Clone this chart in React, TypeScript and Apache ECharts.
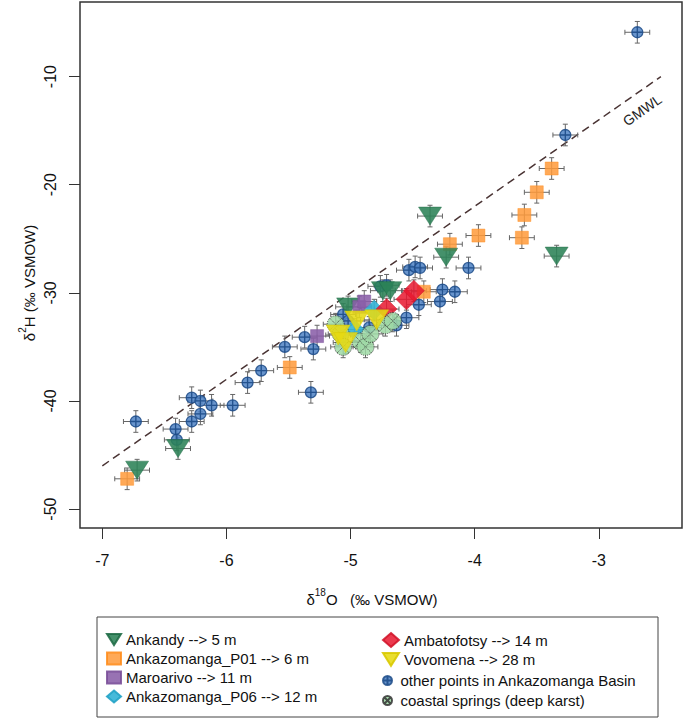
import React, { useEffect, useRef } from 'react';
import * as echarts from 'echarts';

// ---------- data (δ18O, δ2H in ‰ VSMOW) ----------
const X_TICKS = [-7, -6, -5, -4, -3];
const Y_TICKS = [-50, -40, -30, -20, -10];
const ERR_X = 0.1;
const ERR_Y = 1.0;

const ankandy = [
  [-6.72, -46.4], [-6.39, -44.4], [-5.02, -31.3], [-4.74, -29.8],
  [-4.68, -29.8], [-4.36, -22.9], [-4.23, -26.7], [-3.34, -26.6],
];
const ankazomangaP01 = [
  [-6.8, -47.2], [-5.49, -36.9], [-4.41, -29.9], [-4.2, -25.5], [-3.97, -24.7],
  [-3.62, -24.9], [-3.6, -22.8], [-3.5, -20.7], [-3.38, -18.5],
];
const maroarivo = [[-5.27, -34.0], [-4.93, -31.3], [-4.89, -30.8]];
const ankazomangaP06 = [[-4.97, -33.4], [-4.81, -31.6]];
const ambatofotsy = [[-4.71, -31.5], [-4.55, -30.6], [-4.49, -29.8]];
const vovomena = [[-5.1, -33.9], [-5.04, -34.6], [-4.95, -32.6], [-4.79, -32.5]];
const otherPoints = [
  [-6.73, -41.9], [-6.41, -42.6], [-6.4, -43.6], [-6.28, -39.7], [-6.21, -40.0],
  [-6.28, -41.9], [-6.21, -41.2], [-6.12, -40.4], [-5.95, -40.4], [-5.83, -38.3],
  [-5.72, -37.2], [-5.53, -35.0], [-5.37, -34.1], [-5.3, -35.2], [-5.32, -39.2],
  [-5.06, -32.0], [-5.02, -32.6], [-4.85, -33.2], [-4.76, -29.4], [-4.71, -29.3],
  [-4.63, -33.0], [-4.55, -32.3], [-4.45, -31.1], [-4.53, -27.9], [-4.48, -27.6],
  [-4.44, -27.7], [-4.26, -29.7], [-4.16, -29.9], [-4.28, -30.8], [-4.05, -27.7],
  [-3.27, -15.4], [-2.69, -5.9],
];
const coastalSprings = [
  [-5.12, -32.9], [-5.08, -33.8], [-5.06, -35.0], [-4.92, -34.5],
  [-4.88, -35.0], [-4.84, -33.8], [-4.72, -33.0], [-4.66, -32.6],
];
const gmwl = [[-7, -46], [-2.5, -10]];
const gmwlLabelAt = [-2.65, -13.1];

// ---------- styles ----------
const FONT = '"Liberation Sans", Arial, Helvetica, sans-serif';
const INV_TRI = 'path://M0,0L20,0L10,16Z';
const CIRCLE_PLUS = 'path://M10,0A10,10,0,1,1,10,20A10,10,0,1,1,10,0ZM0,10L20,10M10,0L10,20';
const CIRCLE_X = 'path://M10,0A10,10,0,1,1,10,20A10,10,0,1,1,10,0ZM2.93,2.93L17.07,17.07M17.07,2.93L2.93,17.07';

const NAMES = {
  ankandy: 'Ankandy --> 5 m',
  p01: 'Ankazomanga_P01 --> 6 m',
  maro: 'Maroarivo --> 11 m',
  p06: 'Ankazomanga_P06 --> 12 m',
  amba: 'Ambatofotsy --> 14 m',
  vovo: 'Vovomena --> 28 m',
  other: 'other points in Ankazomanga Basin',
  coast: 'coastal springs (deep karst)',
};

type Group = {
  name: string; data: number[][]; symbol: string; size: number | number[];
  color: string; border: string; bw: number; opacity: number; borderType?: string;
};

const groups: Group[] = [
  { name: NAMES.other, data: otherPoints, symbol: CIRCLE_PLUS, size: 11, color: '#4f82c4', border: '#1b4a87', bw: 1.3, opacity: 0.85 },
  { name: NAMES.p01, data: ankazomangaP01, symbol: 'rect', size: 13, color: '#ff9a3a', border: '#ff8c1a', bw: 0.5, opacity: 0.85 },
  { name: NAMES.ankandy, data: ankandy, symbol: INV_TRI, size: [23, 18], color: '#2b8256', border: '#1f6b45', bw: 0.5, opacity: 0.88 },
  { name: NAMES.maro, data: maroarivo, symbol: 'rect', size: 13, color: '#8a5ea8', border: '#7a4f98', bw: 0.5, opacity: 0.88 },
  { name: NAMES.p06, data: ankazomangaP06, symbol: 'diamond', size: 20, color: '#33b3d6', border: '#23a3c6', bw: 0.5, opacity: 0.9 },
  { name: NAMES.amba, data: ambatofotsy, symbol: 'diamond', size: 21, color: '#e8182f', border: '#d01026', bw: 0.5, opacity: 0.85 },
  { name: NAMES.coast, data: coastalSprings, symbol: CIRCLE_X, size: 17, color: '#9fd9a6', border: '#333333', bw: 1, opacity: 0.85, borderType: 'dotted' },
  { name: NAMES.vovo, data: vovomena, symbol: INV_TRI, size: [24, 20], color: '#e6da12', border: '#d8c800', bw: 0.5, opacity: 0.88 },
];

const allPoints = groups.reduce((acc: number[][], g) => acc.concat(g.data), []);

function errorBarRender(params: any, api: any) {
  const x = api.value(0);
  const y = api.value(1);
  const l = api.coord([x - ERR_X, y]);
  const r = api.coord([x + ERR_X, y]);
  const b = api.coord([x, y - ERR_Y]);
  const t = api.coord([x, y + ERR_Y]);
  const c = 2.5;
  const st = { stroke: '#666', lineWidth: 1 };
  const ln = (x1: number, y1: number, x2: number, y2: number) => ({
    type: 'line', shape: { x1, y1, x2, y2 }, style: st,
  });
  return {
    type: 'group',
    children: [
      ln(l[0], l[1], r[0], r[1]),
      ln(b[0], b[1], t[0], t[1]),
      ln(l[0], l[1] - c, l[0], l[1] + c),
      ln(r[0], r[1] - c, r[0], r[1] + c),
      ln(b[0] - c, b[1], b[0] + c, b[1]),
      ln(t[0] - c, t[1], t[0] + c, t[1]),
    ],
  };
}

export default function App() {
  const ref = useRef<HTMLDivElement>(null);
  useEffect(() => {
    if (!ref.current) return;
    const chart = echarts.init(ref.current, undefined, { renderer: 'svg' });
    const legendText = { fontSize: 15, fontFamily: FONT, color: '#111' };
    const series: any[] = [
      {
        type: 'line', name: 'GMWL', data: gmwl, showSymbol: false, symbol: 'none',
        lineStyle: { color: '#4a3434', width: 1.5, type: [8, 5] }, z: 1, silent: true,
      },
      {
        type: 'custom', name: 'errors', data: allPoints, renderItem: errorBarRender,
        encode: { x: 0, y: 1 }, z: 2, silent: true, clip: true,
      },
    ];
    groups.forEach((g) => {
      series.push({
        type: 'scatter', name: g.name, data: g.data, symbol: g.symbol, symbolSize: g.size,
        itemStyle: {
          color: g.color, borderColor: g.border, borderWidth: g.bw, opacity: g.opacity,
          borderType: g.borderType || 'solid',
        },
        z: 3, silent: true,
      });
    });
    chart.setOption({
      animation: false,
      backgroundColor: '#ffffff',
      grid: { left: 80, right: 3, top: 2, bottom: 192, show: true, borderColor: '#333', borderWidth: 1.5 },
      xAxis: {
        type: 'value', min: -7.18, max: -2.33,
        splitLine: { show: false }, axisLine: { show: false },
        axisTick: { show: true, customValues: X_TICKS, length: 11, lineStyle: { color: '#333' } },
        axisLabel: { customValues: X_TICKS, fontSize: 16, margin: 24, color: '#111', fontFamily: FONT },
      },
      yAxis: {
        type: 'value', min: -51.75, max: -3.1,
        splitLine: { show: false }, axisLine: { show: false },
        axisTick: { show: true, customValues: Y_TICKS, length: 11, lineStyle: { color: '#333' } },
        axisLabel: { customValues: Y_TICKS, fontSize: 16, margin: 22, rotate: 90, color: '#111', fontFamily: FONT },
      },
      legend: [
        {
          left: 106, top: 632, padding: 0, orient: 'vertical', itemWidth: 14, itemHeight: 12, itemGap: 4,
          selectedMode: false, textStyle: legendText,
          data: [
            { name: NAMES.ankandy, icon: INV_TRI },
            { name: NAMES.p01, icon: 'rect' },
            { name: NAMES.maro, icon: 'rect' },
            { name: NAMES.p06, icon: 'diamond' },
          ],
        },
        {
          left: 382, top: 632, padding: 0, orient: 'vertical', itemWidth: 16, itemHeight: 14, itemGap: 4,
          selectedMode: false, textStyle: legendText,
          data: [
            { name: NAMES.amba, icon: 'diamond' },
            { name: NAMES.vovo, icon: INV_TRI },
          ],
        },
        {
          left: 382, top: 673, padding: 0, orient: 'vertical', itemWidth: 16, itemHeight: 9, itemGap: 5,
          selectedMode: false, textStyle: legendText,
          data: [
            { name: NAMES.other, icon: CIRCLE_PLUS },
            { name: NAMES.coast, icon: CIRCLE_X },
          ],
        },
      ],
      series,
      graphic: [
        {
          type: 'rect', shape: { x: 97, y: 617, width: 561, height: 100 },
          style: { fill: 'none', stroke: '#444', lineWidth: 1 }, silent: true,
        },
        {
          type: 'text', x: 372, y: 597, silent: true,
          style: {
            text: '{n|δ}{s|18}{n|O   (‰ VSMOW)}',
            align: 'center', verticalAlign: 'middle',
            rich: {
              n: { fontSize: 15, fontFamily: FONT, fill: '#111', lineHeight: 20, verticalAlign: 'bottom' },
              s: { fontSize: 10, fontFamily: FONT, fill: '#111', lineHeight: 20, verticalAlign: 'top' },
            },
          },
        },
        {
          type: 'text', x: 27, y: 283, rotation: Math.PI / 2, silent: true,
          style: {
            text: '{n|δ}{s|2}{n|H (‰ VSMOW)}',
            align: 'center', verticalAlign: 'middle',
            rich: {
              n: { fontSize: 15, fontFamily: FONT, fill: '#111', lineHeight: 20, verticalAlign: 'bottom' },
              s: { fontSize: 10, fontFamily: FONT, fill: '#111', lineHeight: 20, verticalAlign: 'top' },
            },
          },
        },
      ],
    });
    const p = chart.convertToPixel({ gridIndex: 0 }, gmwlLabelAt) as number[];
    chart.setOption({
      graphic: [
        {}, {}, {},
        {
          type: 'text', x: p[0], y: p[1], rotation: (35 * Math.PI) / 180, silent: true,
          style: { text: 'GMWL', fontSize: 14, fontFamily: FONT, fill: '#222', align: 'center', verticalAlign: 'middle' },
        },
      ],
    });
    return () => chart.dispose();
  }, []);
  return (
    <div
      ref={ref}
      style={{ position: 'fixed', left: 0, top: 0, width: 685, height: 720, background: '#fff' }}
    />
  );
}
